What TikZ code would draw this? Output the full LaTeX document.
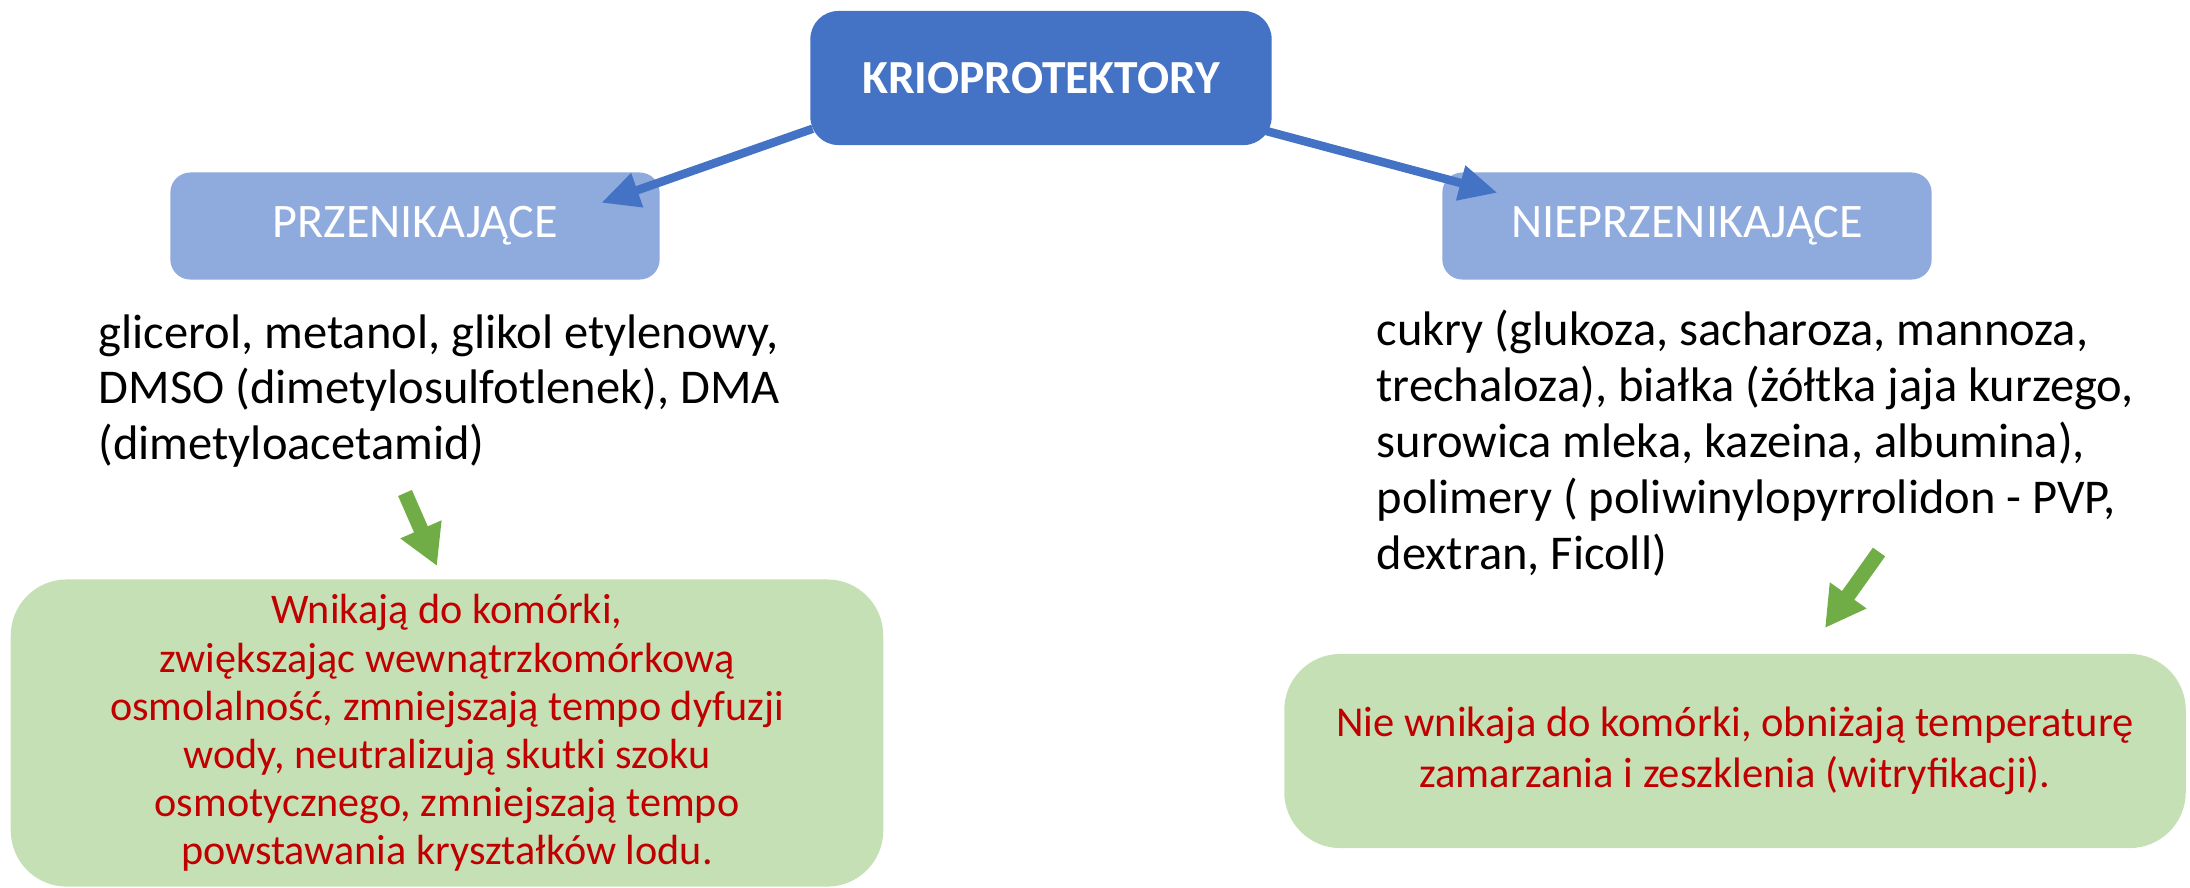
\documentclass[tikz,border=0pt]{standalone}
\usepackage{fontspec}
\setmainfont{Carlito}
\usetikzlibrary{arrows.meta, positioning, calc}
\definecolor{kpblue}{RGB}{68, 114, 196}
\definecolor{lightblue}{RGB}{143, 170, 220}
\definecolor{palegreen}{RGB}{197, 224, 180}
\definecolor{arrowgreen}{RGB}{112, 173, 71}
\definecolor{darkred}{RGB}{192, 0, 0}

\begin{document}
\begin{tikzpicture}[x=0.01cm, y=-0.01cm,
        kbox/.style={rectangle, rounded corners=0.28cm, fill=kpblue, text=white,
                  minimum width=4.61cm, minimum height=1.34cm, font=\fontsize{13.5}{16}\selectfont\bfseries},
        sbox/.style={rectangle, rounded corners=0.2cm, fill=lightblue, text=white,
                  minimum width=4.89cm, minimum height=1.07cm, font=\fontsize{13.7}{16}\selectfont},
        gbox/.style={rectangle, rounded corners=0.56cm, fill=palegreen, text=darkred, align=center},
        txt/.style={align=left, anchor=west, inner sep=0pt, font=\fontsize{13.8}{15.9}\selectfont},
        barrow/.style={-{Triangle[length=0.38cm, width=0.34cm]}, line width=0.085cm, kpblue},
        garrow/.style={-{Triangle[length=0.4cm, width=0.42cm]}, line width=0.15cm, arrowgreen}]
        \useasboundingbox (0,0) rectangle (2190,887);
        \node[kbox] (kp) at (1041,78) {KRIOPROTEKTORY};
        \node[sbox] (pz) at (415,226) {PRZENIKAJĄCE};
        \node[sbox] (npz) at (1687,226) {NIEPRZENIKAJĄCE};
        \draw[barrow] ([shift={(3,-17)}]kp.south west) -- ([shift={(-59,31)}]pz.north east);
        \draw[barrow] ([shift={(-7,-15)}]kp.south east) -- ([shift={(-435,21)}]npz.north east);
        \node[txt] (txtL) at (98,391) {glicerol, metanol, glikol etylenowy,\\DMSO (dimetylosulfotlenek), DMA\\(dimetyloacetamid)};
        \node[txt] (txtR) at (1376,443) {cukry (glukoza, sacharoza, mannoza,\\trechaloza), białka (żółtka jaja kurzego,\\surowica mleka, kazeina, albumina),\\polimery ( poliwinylopyrrolidon - PVP,\\dextran, Ficoll)};
        \node[gbox, minimum width=8.72cm, minimum height=3.07cm, font=\fontsize{12}{13.7}\selectfont] (gL) at (447,733)
            {Wnikają do komórki,\\zwiększając wewnątrzkomórkową\\osmolalność, zmniejszają tempo dyfuzji\\wody, neutralizują skutki szoku\\osmotycznego, zmniejszają tempo\\powstawania kryształków lodu.};
        \node[gbox, minimum width=9.01cm, minimum height=1.94cm, font=\fontsize{12.1}{14.3}\selectfont] (gR) at (1735,751)
            {Nie wnikaja do komórki, obniżają temperaturę\\zamarzania i zeszklenia (witryfikacji).};
        \coordinate (ga1) at (405,493);
        \coordinate (gb1) at (437,566);
        \coordinate (ga2) at (1879,552);
        \coordinate (gb2) at (1825,628);
        \draw[garrow] (ga1) -- (gb1);
        \draw[garrow] (ga2) -- (gb2);
    \end{tikzpicture}
\end{document}
